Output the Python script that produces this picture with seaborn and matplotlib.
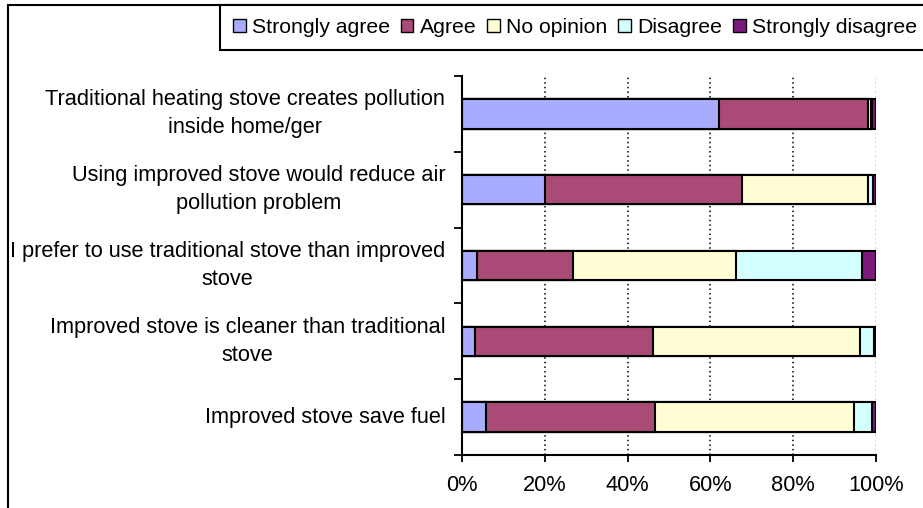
import numpy as np
import pandas as pd
import matplotlib
matplotlib.use("Agg")
import matplotlib.pyplot as plt
from matplotlib.lines import Line2D
from matplotlib.patches import Patch
import seaborn as sns

statements = [
    "Traditional heating stove creates pollution\ninside home/ger",
    "Using improved stove would reduce air\npollution problem",
    "I prefer to use traditional stove than improved\nstove",
    "Improved stove is cleaner than traditional\nstove",
    "Improved stove save fuel",
]
responses = ["Strongly agree", "Agree", "No opinion", "Disagree", "Strongly disagree"]
strongly_agree = [62.0, 20.1, 3.7, 3.2, 5.7]
agree = [36.0, 47.6, 23.2, 43.0, 40.9]
no_opinion = [0.7, 30.3, 39.4, 49.9, 48.1]
disagree = [0.4, 1.3, 30.4, 3.3, 4.3]
strongly_disagree = [0.9, 0.7, 3.3, 0.6, 1.0]
xtick_labels = ["0%", "20%", "40%", "60%", "80%", "100%"]
colors = ["#A9ABFE", "#AA4A76", "#FFFDD4", "#D4FFFF", "#7B1A7B"]

series = [strongly_agree, agree, no_opinion, disagree, strongly_disagree]
df = pd.DataFrame({"statement": statements})
cum = np.zeros(len(statements))
for name, vals in zip(responses, series):
    cum = cum + np.array(vals)
    df[name] = cum

sns.set_theme(style="white")
plt.rcParams["font.family"] = ["Liberation Sans", "DejaVu Sans"]
plt.rcParams["text.color"] = "black"
plt.rcParams["xtick.color"] = "black"
plt.rcParams["ytick.color"] = "black"
plt.rcParams["xtick.labelcolor"] = "black"
plt.rcParams["ytick.labelcolor"] = "black"
FS = 15.7
LFS = 15.3

fig = plt.figure(figsize=(9.23, 5.08), dpi=100)
ax = fig.add_axes([462 / 923, 1 - 455 / 508, 414 / 923, (455 - 76) / 508])

for name, col in reversed(list(zip(responses, colors))):
    sns.barplot(data=df, y="statement", x=name, order=statements, color=col,
                orient="h", width=0.39, edgecolor="black", linewidth=1.5,
                saturation=1, ax=ax)

ax.set_xlim(0, 100)
ax.set_ylim(4.5, -0.5)
ax.set_xlabel("")
ax.set_ylabel("")

# x axis
ax.set_xticks(np.arange(0, 101, 20))
ax.set_xticklabels(xtick_labels, fontsize=FS, color="black")
ax.tick_params(axis="x", direction="out", length=5, width=1.3, color="black", pad=9.5,
               bottom=True)
ax.grid(axis="x", linestyle=(0, (1, 2)), color="black", linewidth=1.1)
ax.grid(axis="y", visible=False)
for line, t in zip(ax.get_xgridlines(), ax.get_xticks()):
    if t >= 100:
        line.set_color("#bbbbbb")
    if t <= 0:
        line.set_visible(False)
ax.set_axisbelow(True)

# y axis: ticks between categories, labels centered on categories
ax.set_yticks(np.arange(-0.5, 5, 1))
ax.set_yticklabels([])
ax.tick_params(axis="y", which="major", direction="out", length=6, width=1.3,
               color="black", left=True)
ax.tick_params(axis="y", which="minor", length=0, pad=12, labelsize=FS)
ax.set_yticks(range(len(statements)), labels=statements, minor=True,
              multialignment="center", linespacing=1.45, color="black", fontsize=FS,
              va="center")

for s in ["top", "right"]:
    ax.spines[s].set_visible(False)
for s in ["left", "bottom"]:
    ax.spines[s].set_color("black")
    ax.spines[s].set_linewidth(1.5)

# chart border (extends beyond figure right/bottom)
x0, y0 = 8 / 923, 1 - 5 / 508
fig.add_artist(Line2D([x0, x0], [y0, -0.05], transform=fig.transFigure, color="black", lw=1.5))
fig.add_artist(Line2D([x0, 1.05], [y0, y0], transform=fig.transFigure, color="black", lw=1.5))

# legend
handles = [Patch(facecolor=c, edgecolor="black", linewidth=1.0) for c in colors]
leg = fig.legend(handles, responses, loc="upper left", bbox_to_anchor=(220 / 923, y0),
                 ncol=5, frameon=True, fancybox=False, edgecolor="black", fontsize=LFS,
                 borderaxespad=0, handlelength=0.6, handleheight=0.55, handletextpad=0.3,
                 columnspacing=0.5, borderpad=0.6)
leg.get_frame().set_linewidth(1.5)
leg.get_frame().set_alpha(1)
for t in leg.get_texts():
    t.set_color("black")

fig.savefig("out.png", dpi=100, facecolor="white")
